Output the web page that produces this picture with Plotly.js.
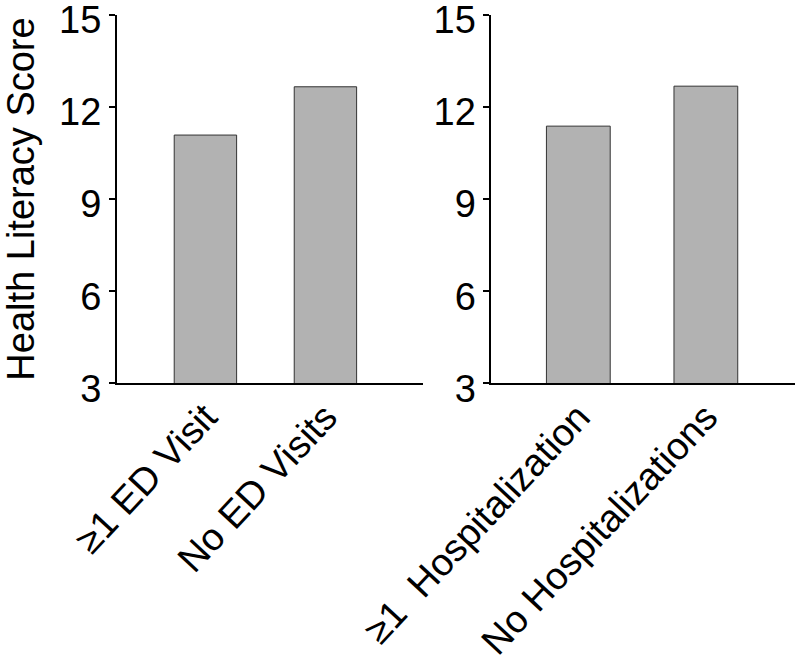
<!DOCTYPE html>
<html>
<head>
<meta charset="utf-8">
<script src="https://cdn.plot.ly/plotly-3.0.1.min.js"></script>
<style>html,body{margin:0;padding:0;background:#fff;}#chart{width:799px;height:663px;}</style>
</head>
<body>
<div id="chart"></div>
<script>
const edCategories = ["\u22651 ED Visit", "No ED Visits"];
const edScores = [11.08, 12.65];
const hospCategories = ["\u22651\u00a0 Hospitalization", "No Hospitalizations"];
const hospScores = [11.37, 12.67];
const yTickValues = [3, 6, 9, 12, 15];
const yAxisTitle = "Health Literacy Score";

const FONT = "Liberation Sans, Arial, sans-serif";
const barStyle = {color: "#b2b2b2", line: {color: "#333333", width: 1}};

const traces = [
  {type: "bar", x: edCategories, y: edScores, xaxis: "x", yaxis: "y", width: 0.52, marker: barStyle, hoverinfo: "none"},
  {type: "bar", x: hospCategories, y: hospScores, xaxis: "x2", yaxis: "y2", width: 0.5, marker: barStyle, hoverinfo: "none"}
];

const yCommon = {
  range: [3, 15], autorange: false, tickvals: yTickValues, ticktext: yTickValues.map(String),
  showgrid: false, zeroline: false, showline: true, linecolor: "#000", linewidth: 2,
  ticks: "outside", ticklen: 6, tickwidth: 2, tickcolor: "#000", ticklabeloverflow: "allow",
  ticklabelshift: 5,
  tickfont: {family: FONT, size: 38, color: "#000"}, domain: [0.4216, 0.9781]
};
const xCommon = {
  type: "category", showgrid: false, zeroline: false, showline: true, linecolor: "#000", linewidth: 2,
  ticks: "", tickangle: -47, ticklabelstandoff: -6, ticklabeloverflow: "allow",
  tickfont: {family: FONT, size: 38, color: "#000"}
};

const layout = {
  width: 799, height: 663, margin: {l: 0, r: 0, t: 0, b: 0}, showlegend: false,
  paper_bgcolor: "#fff", plot_bgcolor: "rgba(0,0,0,0)",
  xaxis: Object.assign({}, xCommon, {domain: [0.1464, 0.5294], range: [-0.737, 1.813], anchor: "y"}),
  xaxis2: Object.assign({}, xCommon, {domain: [0.6151, 0.995], range: [-0.681, 1.699], anchor: "y2"}),
  yaxis: Object.assign({}, yCommon, {anchor: "x", title: {text: yAxisTitle, font: {family: FONT, size: 38, color: "#000"}, standoff: 30}}),
  yaxis2: Object.assign({}, yCommon, {anchor: "x2"})
};

Plotly.newPlot("chart", traces, layout, {staticPlot: true, displayModeBar: false});
</script>
</body>
</html>
